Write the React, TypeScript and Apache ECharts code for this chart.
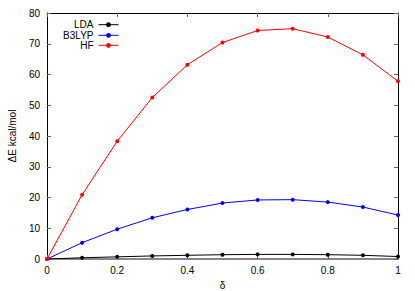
import React, { useEffect, useRef } from "react";
import * as echarts from "echarts";

const deltas = [0, 0.1, 0.2, 0.3, 0.4, 0.5, 0.6, 0.7, 0.8, 0.9, 1.0];
const ldaValues = [0, 0.4, 0.7, 1.0, 1.2, 1.4, 1.5, 1.5, 1.4, 1.2, 0.8];
const b3lypValues = [0, 5.3, 9.7, 13.4, 16.1, 18.2, 19.2, 19.3, 18.5, 16.9, 14.3];
const hfValues = [0, 20.9, 38.3, 52.5, 63.2, 70.4, 74.3, 74.9, 72.2, 66.4, 57.8];
const seriesNames = ["LDA", "B3LYP", "HF"];
const seriesColors = ["#000000", "#0000ff", "#ff0000"];
const xAxisName = "δ";
const yAxisName = "ΔE kcal/mol";

const FONT = "Liberation Sans, Arial, sans-serif";

export default function App() {
  const ref = useRef<HTMLDivElement>(null);
  useEffect(() => {
    if (!ref.current) return;
    const chart = echarts.init(ref.current, undefined, { renderer: "svg" });
    const valueSets = [ldaValues, b3lypValues, hfValues];
    const series = seriesNames.map((name, i) => ({
      name,
      type: "line",
      xAxisIndex: 0,
      yAxisIndex: 0,
      data: deltas.map((d, j) => [d, valueSets[i][j]]),
      symbol: "circle",
      symbolSize: 4,
      showSymbol: true,
      lineStyle: { color: seriesColors[i], width: 1 },
      itemStyle: { color: seriesColors[i] },
      z: 3 + i,
    }));
    const legendCenters = [22.7, 33.3, 43.3];
    const legends = seriesNames.map((name, i) => ({
      data: [name],
      orient: "vertical",
      right: 296,
      top: legendCenters[i] - 3,
      align: "right",
      padding: 0,
      itemWidth: 20,
      itemHeight: 6,
      lineStyle: { width: 1 },
      textStyle: { fontFamily: FONT, fontSize: 10, color: "#000" },
      selectedMode: false,
    }));
    const tick = { show: true, inside: true, length: 4, lineStyle: { color: "#666" } };
    chart.setOption({
      animation: false,
      backgroundColor: "#ffffff",
      textStyle: { fontFamily: FONT },
      grid: {
        left: 47,
        right: 17,
        top: 13,
        bottom: 32,
        containLabel: false,
        outerBoundsMode: "none",
      },
      legend: legends,
      xAxis: [
        {
          type: "value",
          position: "bottom",
          min: 0,
          max: 1,
          interval: 0.2,
          name: xAxisName,
          nameLocation: "middle",
          nameGap: 21,
          nameTextStyle: { fontFamily: FONT, fontSize: 10, color: "#000" },
          axisLine: { show: true, onZero: false, lineStyle: { color: "#888888", width: 2 } },
          axisTick: tick,
          axisLabel: { fontFamily: FONT, fontSize: 10, color: "#000", margin: 6 },
          splitLine: { show: false },
        },
        {
          type: "value",
          position: "top",
          min: 0,
          max: 1,
          interval: 0.2,
          axisLine: { show: true, onZero: false, lineStyle: { color: "#000", width: 1 } },
          axisTick: tick,
          axisLabel: { show: false },
          splitLine: { show: false },
        },
      ],
      yAxis: [
        {
          type: "value",
          position: "left",
          min: 0,
          max: 80,
          interval: 10,
          name: yAxisName,
          nameLocation: "middle",
          nameGap: 30,
          nameTextStyle: { fontFamily: FONT, fontSize: 10, color: "#000" },
          axisLine: { show: true, onZero: false, lineStyle: { color: "#000", width: 1 } },
          axisTick: tick,
          axisLabel: { fontFamily: FONT, fontSize: 10, color: "#000", margin: 7 },
          splitLine: { show: false },
        },
        {
          type: "value",
          position: "right",
          min: 0,
          max: 80,
          interval: 10,
          axisLine: { show: true, onZero: false, lineStyle: { color: "#000", width: 1 } },
          axisTick: tick,
          axisLabel: { show: false },
          splitLine: { show: false },
        },
      ],
      series,
    });
    return () => chart.dispose();
  }, []);
  return (
    <div
      ref={ref}
      style={{ position: "fixed", left: 0, top: 0, width: 415, height: 291, background: "#fff" }}
    />
  );
}
